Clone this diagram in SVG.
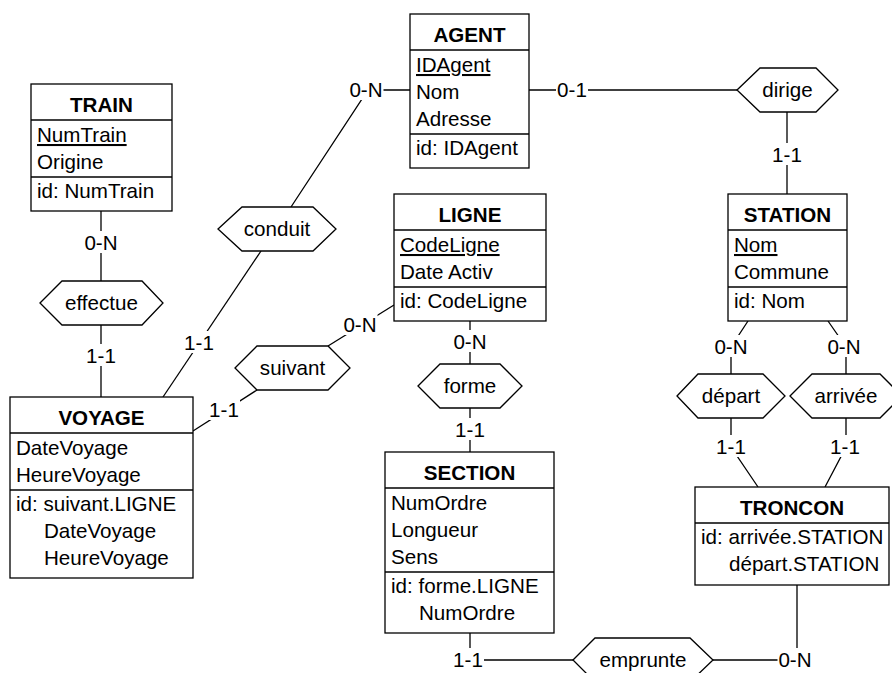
<svg xmlns="http://www.w3.org/2000/svg" width="892" height="673" viewBox="0 0 892 673">
<style>
text{font-family:"Liberation Sans",Arial,sans-serif;font-size:20.6px;fill:#000}
.t{font-weight:bold;text-anchor:middle}
.u{text-decoration:underline}
.box{fill:#fff;stroke:#000;stroke-width:1.3}
.sep{stroke:#000;stroke-width:1.3}
.hex{fill:#fff;stroke:#000;stroke-width:1.3}
.hl{text-anchor:middle}
.ln{fill:none;stroke:#000;stroke-width:1.3}
.bg{fill:#fff;stroke:none}
.card{text-anchor:middle}
</style>
<rect width="892" height="673" fill="#fff"/>
<g id="connectors">
<line class="ln" x1="101" y1="211" x2="101" y2="281"/>
<line class="ln" x1="101" y1="325" x2="101" y2="397"/>
<line class="ln" x1="261" y1="251" x2="163" y2="397"/>
<polyline class="ln" points="291,207 368,90 410,90"/>
<line class="ln" x1="328" y1="346" x2="394" y2="305"/>
<line class="ln" x1="257" y1="390" x2="193" y2="431"/>
<line class="ln" x1="529" y1="90" x2="737" y2="90"/>
<line class="ln" x1="787" y1="112" x2="787" y2="194"/>
<line class="ln" x1="470" y1="321" x2="470" y2="364"/>
<line class="ln" x1="470" y1="408" x2="470" y2="452"/>
<polyline class="ln" points="748,321 731,347 731,374"/>
<polyline class="ln" points="828,321 846,347 846,374"/>
<polyline class="ln" points="731,418 731,447 758,487"/>
<polyline class="ln" points="846,418 846,447 825,487"/>
<polyline class="ln" points="470,633 470,660 573,660"/>
<polyline class="ln" points="713,660 797,660 797,584"/>
<rect class="bg" x="83.5" y="231" width="35" height="22"/>
<rect class="bg" x="85" y="344" width="32" height="22"/>
<rect class="bg" x="183" y="331" width="32" height="22"/>
<rect class="bg" x="348.5" y="78" width="35" height="22"/>
<rect class="bg" x="342.5" y="313" width="35" height="22"/>
<rect class="bg" x="208" y="398" width="32" height="22"/>
<rect class="bg" x="556" y="78" width="32" height="22"/>
<rect class="bg" x="771" y="143" width="32" height="22"/>
<rect class="bg" x="452.5" y="330" width="35" height="22"/>
<rect class="bg" x="454" y="418" width="32" height="22"/>
<rect class="bg" x="713.5" y="335" width="35" height="22"/>
<rect class="bg" x="826.5" y="335" width="35" height="22"/>
<rect class="bg" x="715" y="435" width="32" height="22"/>
<rect class="bg" x="829" y="435" width="32" height="22"/>
<rect class="bg" x="452" y="648" width="32" height="22"/>
<rect class="bg" x="777.5" y="648" width="35" height="22"/>
<text class="card" x="101" y="250">0-N</text>
<text class="card" x="101" y="363">1-1</text>
<text class="card" x="199" y="350">1-1</text>
<text class="card" x="366" y="97">0-N</text>
<text class="card" x="360" y="332">0-N</text>
<text class="card" x="224" y="417">1-1</text>
<text class="card" x="572" y="97">0-1</text>
<text class="card" x="787" y="162">1-1</text>
<text class="card" x="470" y="349">0-N</text>
<text class="card" x="470" y="437">1-1</text>
<text class="card" x="731" y="354">0-N</text>
<text class="card" x="844" y="354">0-N</text>
<text class="card" x="731" y="454">1-1</text>
<text class="card" x="845" y="454">1-1</text>
<text class="card" x="468" y="667">1-1</text>
<text class="card" x="795" y="667">0-N</text>
</g>
<g id="TRAIN">
<rect class="box" x="31" y="84" width="141" height="127"/>
<line class="sep" x1="31" y1="120" x2="172" y2="120"/>
<line class="sep" x1="31" y1="177" x2="172" y2="177"/>
<text class="t" x="101.5" y="112">TRAIN</text>
<text class="u" x="37" y="142">NumTrain</text>
<text x="37" y="169">Origine</text>
<text x="37" y="198">id: NumTrain</text>
</g>
<g id="AGENT">
<rect class="box" x="410" y="14" width="119" height="154"/>
<line class="sep" x1="410" y1="50" x2="529" y2="50"/>
<line class="sep" x1="410" y1="134" x2="529" y2="134"/>
<text class="t" x="469.5" y="42">AGENT</text>
<text class="u" x="416" y="72">IDAgent</text>
<text x="416" y="99">Nom</text>
<text x="416" y="126">Adresse</text>
<text x="416" y="155">id: IDAgent</text>
</g>
<g id="LIGNE">
<rect class="box" x="394" y="194" width="152" height="127"/>
<line class="sep" x1="394" y1="230" x2="546" y2="230"/>
<line class="sep" x1="394" y1="287" x2="546" y2="287"/>
<text class="t" x="470" y="222">LIGNE</text>
<text class="u" x="400" y="252">CodeLigne</text>
<text x="400" y="279">Date Activ</text>
<text x="400" y="308">id: CodeLigne</text>
</g>
<g id="STATION">
<rect class="box" x="728" y="194" width="119" height="127"/>
<line class="sep" x1="728" y1="230" x2="847" y2="230"/>
<line class="sep" x1="728" y1="287" x2="847" y2="287"/>
<text class="t" x="787.5" y="222">STATION</text>
<text class="u" x="734" y="252">Nom</text>
<text x="734" y="279">Commune</text>
<text x="734" y="308">id: Nom</text>
</g>
<g id="VOYAGE">
<rect class="box" x="10" y="397" width="183" height="181"/>
<line class="sep" x1="10" y1="433" x2="193" y2="433"/>
<line class="sep" x1="10" y1="490" x2="193" y2="490"/>
<text class="t" x="101.5" y="425">VOYAGE</text>
<text x="16" y="455">DateVoyage</text>
<text x="16" y="482">HeureVoyage</text>
<text x="16" y="511">id: suivant.LIGNE</text>
<text x="44" y="538">DateVoyage</text>
<text x="44" y="565">HeureVoyage</text>
</g>
<g id="SECTION">
<rect class="box" x="385" y="452" width="169" height="181"/>
<line class="sep" x1="385" y1="488" x2="554" y2="488"/>
<line class="sep" x1="385" y1="572" x2="554" y2="572"/>
<text class="t" x="469.5" y="480">SECTION</text>
<text x="391" y="510">NumOrdre</text>
<text x="391" y="537">Longueur</text>
<text x="391" y="564">Sens</text>
<text x="391" y="593">id: forme.LIGNE</text>
<text x="419" y="620">NumOrdre</text>
</g>
<g id="TRONCON">
<rect class="box" x="695" y="487" width="194" height="98"/>
<line class="sep" x1="695" y1="523" x2="889" y2="523"/>
<text class="t" x="792" y="515">TRONCON</text>
<text x="701" y="544">id: arrivée.STATION</text>
<text x="729" y="571">départ.STATION</text>
</g>
<g id="effectue">
<polygon class="hex" points="40,303 62,281 142,281 163,303 142,325 62,325"/>
<text class="hl" x="101.5" y="310">effectue</text>
</g>
<g id="conduit">
<polygon class="hex" points="218,229 242,207 313,207 336,229 313,251 242,251"/>
<text class="hl" x="277" y="236">conduit</text>
</g>
<g id="suivant">
<polygon class="hex" points="235,368 257,346 328,346 350,368 328,390 257,390"/>
<text class="hl" x="292.5" y="375">suivant</text>
</g>
<g id="dirige">
<polygon class="hex" points="737,90 760,68 816,68 838,90 816,112 760,112"/>
<text class="hl" x="787.5" y="97">dirige</text>
</g>
<g id="forme">
<polygon class="hex" points="418,386 440,364 500,364 522,386 500,408 440,408"/>
<text class="hl" x="470" y="393">forme</text>
</g>
<g id="depart">
<polygon class="hex" points="677,396 698,374 763,374 785,396 763,418 698,418"/>
<text class="hl" x="731" y="403">départ</text>
</g>
<g id="arrivee">
<polygon class="hex" points="790,396 812,374 880,374 902,396 880,418 812,418"/>
<text class="hl" x="846" y="403">arrivée</text>
</g>
<g id="emprunte">
<polygon class="hex" points="573,660 595,638 690,638 713,660 690,682 595,682"/>
<text class="hl" x="643" y="667">emprunte</text>
</g>
</svg>
